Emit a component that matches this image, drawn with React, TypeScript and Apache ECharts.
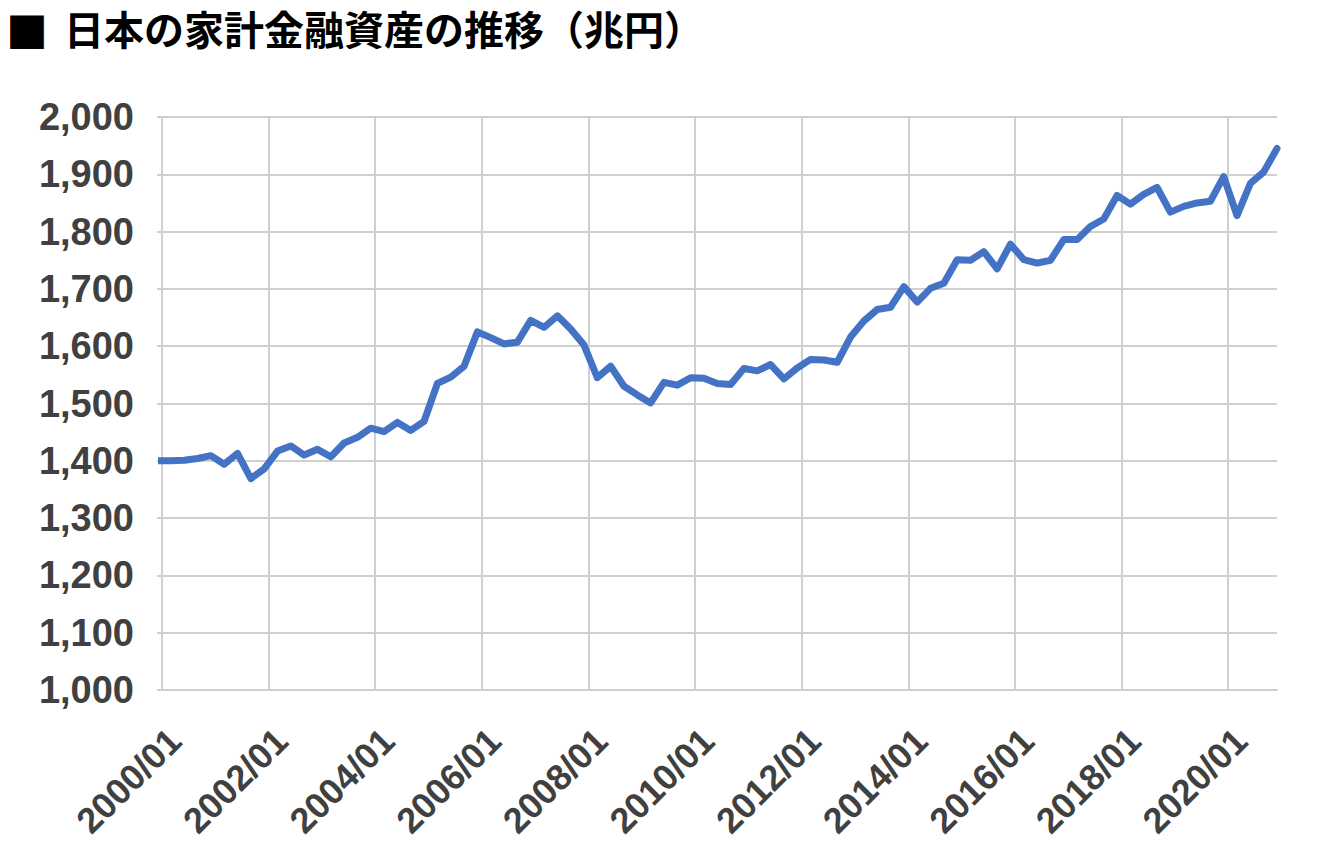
import React, { useEffect, useRef } from "react";
import * as echarts from "echarts";

// Quarter-end dates (year/month) and household financial assets (trillion yen)
const dates: string[] = [
  "1999/12",
  "2000/03", "2000/06", "2000/09", "2000/12",
  "2001/03", "2001/06", "2001/09", "2001/12",
  "2002/03", "2002/06", "2002/09", "2002/12",
  "2003/03", "2003/06", "2003/09", "2003/12",
  "2004/03", "2004/06", "2004/09", "2004/12",
  "2005/03", "2005/06", "2005/09", "2005/12",
  "2006/03", "2006/06", "2006/09", "2006/12",
  "2007/03", "2007/06", "2007/09", "2007/12",
  "2008/03", "2008/06", "2008/09", "2008/12",
  "2009/03", "2009/06", "2009/09", "2009/12",
  "2010/03", "2010/06", "2010/09", "2010/12",
  "2011/03", "2011/06", "2011/09", "2011/12",
  "2012/03", "2012/06", "2012/09", "2012/12",
  "2013/03", "2013/06", "2013/09", "2013/12",
  "2014/03", "2014/06", "2014/09", "2014/12",
  "2015/03", "2015/06", "2015/09", "2015/12",
  "2016/03", "2016/06", "2016/09", "2016/12",
  "2017/03", "2017/06", "2017/09", "2017/12",
  "2018/03", "2018/06", "2018/09", "2018/12",
  "2019/03", "2019/06", "2019/09", "2019/12",
  "2020/03", "2020/06", "2020/09", "2020/12",
];

const assets: number[] = [
  1400,
  1400, 1401, 1404, 1409,
  1394, 1413, 1369, 1386,
  1417, 1426, 1410, 1420,
  1407, 1431, 1441, 1457,
  1451, 1467, 1453, 1469,
  1535, 1546, 1565, 1625,
  1615, 1604, 1607, 1645,
  1633, 1653, 1630, 1602,
  1545, 1565, 1530, 1515,
  1501, 1537, 1532, 1545,
  1544, 1535, 1533, 1561,
  1557, 1568, 1543, 1562,
  1577, 1576, 1572, 1616,
  1644, 1664, 1668, 1704,
  1677, 1701, 1710, 1751,
  1750, 1765, 1735, 1778,
  1751, 1745, 1750, 1786,
  1786, 1809, 1822, 1863,
  1848, 1865, 1877, 1834,
  1844, 1850, 1853, 1896,
  1828, 1884, 1904, 1945,
];

// Axis range: 2000/01 .. 2020/12 (months since 2000/01)
const axisStart = "2000/01";
const axisEnd = "2020/12";
const labelEveryMonths = 24;

const yMin = 1000;
const yMax = 2000;
const yStep = 100;

const titleMark = "■";
const titleText = "日本の家計金融資産の推移（兆円）";

const monthIndex = (d: string) => {
  const [y, m] = d.split("/").map(Number);
  const [y0, m0] = axisStart.split("/").map(Number);
  return (y - y0) * 12 + (m - m0);
};

const App: React.FC = () => {
  const ref = useRef<HTMLDivElement>(null);

  useEffect(() => {
    if (!ref.current) return;
    const chart = echarts.init(ref.current, undefined, { renderer: "svg" });
    const gridColor = "#d0d0d0";
    const labelColor = "#404040";
    const numFont = "'Liberation Sans', Arial, sans-serif";
    const cjkFont = "'Noto Sans CJK JP', sans-serif";

    chart.setOption({
      animation: false,
      backgroundColor: "#ffffff",
      graphic: [
        {
          type: "text",
          left: 6,
          top: 8,
          style: {
            text: titleMark,
            fontSize: 42,
            fontWeight: "bold",
            fontFamily: cjkFont,
            fill: "#000000",
          },
        },
        {
          type: "text",
          left: 64,
          top: 8,
          style: {
            text: titleText,
            fontSize: 40,
            fontWeight: "bold",
            fontFamily: cjkFont,
            fill: "#000000",
          },
        },
      ],
      grid: { left: 162, right: 43, top: 117, bottom: 170 },
      xAxis: {
        type: "value",
        min: 0,
        max: monthIndex(axisEnd),
        interval: labelEveryMonths,
        axisLine: { show: true, lineStyle: { color: gridColor, width: 2 } },
        axisTick: { show: false },
        splitLine: {
          show: true,
          showMaxLine: false,
          lineStyle: { color: gridColor, width: 2 },
        },
        axisLabel: {
          showMaxLabel: false,
          rotate: 45,
          align: "right",
          verticalAlign: "top",
          margin: 32,
          fontSize: 36,
          fontWeight: "bold",
          fontFamily: numFont,
          color: labelColor,
          formatter: (v: number) => {
            if (v % labelEveryMonths !== 0) return "";
            const [y0] = axisStart.split("/").map(Number);
            return `${y0 + v / 12}/01`;
          },
        },
      },
      yAxis: {
        type: "value",
        min: yMin,
        max: yMax,
        interval: yStep,
        axisLine: { show: true, lineStyle: { color: gridColor, width: 2 } },
        axisTick: { show: true, length: 5, lineStyle: { color: gridColor, width: 2 } },
        splitLine: { show: true, lineStyle: { color: gridColor, width: 2 } },
        axisLabel: {
          margin: 28,
          fontSize: 38,
          fontWeight: "bold",
          fontFamily: numFont,
          color: labelColor,
          formatter: (v: number) => v.toLocaleString("en-US"),
        },
      },
      series: [
        {
          type: "line",
          data: dates.map((d, i) => [monthIndex(d), assets[i]]),
          showSymbol: false,
          symbol: "none",
          clip: true,
          lineStyle: { color: "#4472C4", width: 7, join: "round", cap: "round" },
        },
      ],
    });

    return () => chart.dispose();
  }, []);

  return (
    <div
      ref={ref}
      style={{ position: "fixed", left: 0, top: 0, width: 1320, height: 860 }}
    />
  );
};

export default App;
